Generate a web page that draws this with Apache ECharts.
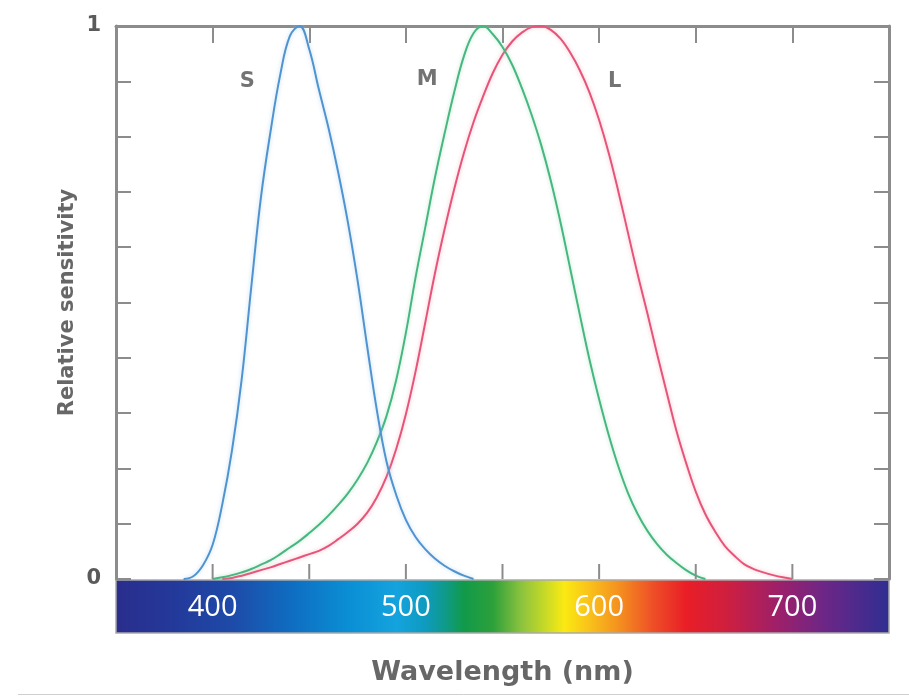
<!DOCTYPE html>
<html>
<head>
<meta charset="utf-8">
<script src="https://cdn.jsdelivr.net/npm/echarts@6/dist/echarts.min.js"></script>
<style>
  html, body { margin: 0; padding: 0; background: #ffffff; }
  #chart { width: 909px; height: 696px; }
</style>
</head>
<body>
<div id="chart"></div>
<script>
// Cone spectral sensitivities (normalised), sampled every 5 nm
const wavelengthsS = [385, 390, 395, 400, 405, 410, 415, 420, 425, 430, 435, 440, 445, 450, 455, 460,
  465, 470, 475, 480, 485, 490, 495, 500, 505, 510, 515, 520, 525, 530, 535];
const sensitivityS = [0, 0.005, 0.025, 0.062, 0.135, 0.232, 0.36, 0.528, 0.69, 0.81, 0.912, 0.982, 1.0, 0.958, 0.885, 0.815,
  0.735, 0.645, 0.54, 0.42, 0.305, 0.212, 0.152, 0.107, 0.076, 0.054, 0.037, 0.024, 0.014, 0.006, 0];

const wavelengthsM = [400, 405, 410, 415, 420, 425, 430, 435, 440, 445, 450, 455, 460, 465, 470, 475, 480, 485,
  490, 495, 500, 505, 510, 515, 520, 525, 530, 535, 540, 545, 550, 555, 560, 565, 570, 575, 580, 585,
  590, 595, 600, 605, 610, 615, 620, 625, 630, 635, 640, 645, 650, 655];
const sensitivityM = [0, 0.003, 0.007, 0.012, 0.018, 0.026, 0.034, 0.045, 0.057, 0.069, 0.083, 0.098, 0.115, 0.134, 0.155, 0.18, 0.21, 0.248,
  0.295, 0.36, 0.445, 0.545, 0.635, 0.725, 0.805, 0.88, 0.945, 0.987, 1.0, 0.985, 0.962, 0.93, 0.888, 0.84, 0.785, 0.72, 0.645, 0.562,
  0.478, 0.397, 0.325, 0.26, 0.203, 0.155, 0.117, 0.087, 0.063, 0.044, 0.029, 0.016, 0.006, 0];

const wavelengthsL = [405, 410, 415, 420, 425, 430, 435, 440, 445, 450, 455, 460, 465, 470, 475, 480, 485, 490,
  495, 500, 505, 510, 515, 520, 525, 530, 535, 540, 545, 550, 555, 560, 565, 570, 575, 580, 585, 590,
  595, 600, 605, 610, 615, 620, 625, 630, 635, 640, 645, 650, 655, 660, 665, 670, 675, 680, 685, 690, 695, 700];
const sensitivityL = [0, 0.002, 0.006, 0.011, 0.016, 0.021, 0.027, 0.033, 0.039, 0.045, 0.051, 0.06, 0.072, 0.085, 0.10, 0.12, 0.148, 0.185,
  0.235, 0.298, 0.375, 0.463, 0.552, 0.632, 0.705, 0.77, 0.826, 0.873, 0.915, 0.948, 0.972, 0.988, 0.998, 1.0, 0.993, 0.977, 0.952, 0.92,
  0.88, 0.83, 0.77, 0.70, 0.625, 0.55, 0.48, 0.407, 0.337, 0.268, 0.21, 0.158, 0.117, 0.086, 0.06, 0.042, 0.027, 0.018, 0.012, 0.007, 0.003, 0];

// Axis ranges, tick and label values
const wavelengthMin = 350;
const wavelengthMax = 750;
const wavelengthStep = 50;
const wavelengthTicks = [400, 450, 500, 550, 600, 650, 700];
const wavelengthLabels = [400, 500, 600, 700];
const sensitivityLabels = [0, 1];

// Curve tags: name and anchor in data units (nm, sensitivity)
const curveTags = [
  { name: 'S', value: [418, 0.9] },
  { name: 'M', value: [511, 0.903] },
  { name: 'L', value: [608, 0.9] }
];

// Visible-spectrum colour stops (nm, colour) for the strip under the plot
const spectrumNm = [350, 380, 410, 440, 470, 495, 510, 522, 530, 545, 560, 575, 582, 595, 610, 628, 645, 665, 690, 715, 750];
const spectrumColors = ['#2a2d8c', '#23399a', '#1e4aa8', '#0f6cc0', '#0a8ed4', '#14a3de', '#0e9bc0', '#0f9a80', '#119a4a',
  '#2ca03a', '#8dc33e', '#d6df21', '#fbe912', '#f9c11a', '#f4911f', '#ee4e26', '#e91e27', '#d01f3e', '#a21f66', '#6f2686', '#2e2e92'];

const frameColor = '#8c8c8c';
const textGrey = '#676767';

function pairs(xs, ys) { return xs.map((x, i) => [x, ys[i]]); }

function curve(name, xs, ys, color, glow) {
  return {
    name: name,
    type: 'line',
    xAxisIndex: 0,
    yAxisIndex: 0,
    data: pairs(xs, ys),
    smooth: 0.4,
    showSymbol: false,
    silent: true,
    lineStyle: { color: color, width: 2, shadowColor: glow, shadowBlur: 4 },
    z: 3
  };
}

const frameLine = () => ({ show: true, onZero: false, lineStyle: { color: frameColor, width: 3 } });
const frameTick = (len) => ({ show: true, inside: true, length: len, lineStyle: { color: frameColor, width: 2 } });

const chart = echarts.init(document.getElementById('chart'), null, { renderer: 'canvas' });

chart.setOption({
  animation: false,
  backgroundColor: '#ffffff',
  grid: { left: 116, right: 20, top: 26, bottom: 117, containLabel: false },
  xAxis: [
    {
      // wavelength labels and title along the spectrum strip
      type: 'value', position: 'bottom', min: wavelengthMin, max: wavelengthMax, interval: wavelengthStep,
      axisLine: { show: false },
      axisTick: { show: false },
      axisLabel: { show: true, customValues: wavelengthLabels, margin: 14, color: '#ffffff',
        fontSize: 29, fontFamily: 'Open Sans', fontWeight: 'normal' },
      splitLine: { show: false },
      name: 'Wavelength (nm)', nameLocation: 'middle', nameGap: 80, nameMoveOverlap: false,
      nameTextStyle: { fontFamily: 'DejaVu Sans', fontWeight: 'bold', fontSize: 27, color: textGrey }
    },
    {
      // top edge of the frame
      type: 'value', position: 'top', min: wavelengthMin, max: wavelengthMax, interval: wavelengthStep,
      axisLine: frameLine(),
      axisTick: frameTick(17),
      axisLabel: { show: false },
      splitLine: { show: false }
    }
  ],
  yAxis: [
    {
      type: 'value', position: 'left', min: 0, max: 1, interval: 0.1,
      axisLine: frameLine(),
      axisTick: frameTick(15),
      axisLabel: { show: true, customValues: sensitivityLabels, margin: 15, color: '#5a5a5a',
        fontSize: 21, fontFamily: 'DejaVu Sans', fontWeight: 'bold' },
      splitLine: { show: false },
      name: 'Relative sensitivity', nameLocation: 'middle', nameGap: 38, nameRotate: 90, nameMoveOverlap: false,
      nameTextStyle: { fontFamily: 'DejaVu Sans', fontWeight: 'bold', fontSize: 21, color: textGrey }
    },
    {
      type: 'value', position: 'right', min: 0, max: 1, interval: 0.1,
      axisLine: frameLine(),
      axisTick: frameTick(15),
      axisLabel: { show: false },
      splitLine: { show: false }
    }
  ],
  series: [
    curve('L', wavelengthsL, sensitivityL, '#e5557a', 'rgba(240,150,170,0.6)'),
    curve('M', wavelengthsM, sensitivityM, '#46b77f', 'rgba(150,215,180,0.6)'),
    curve('S', wavelengthsS, sensitivityS, '#4f93cf', 'rgba(150,195,230,0.6)'),
    {
      name: 'tags', type: 'scatter', data: curveTags, symbolSize: 0, silent: true, z: 4,
      label: { show: true, position: 'inside', formatter: p => p.name,
        fontFamily: 'DejaVu Sans', fontWeight: 'bold', fontSize: 21, color: '#505050' }
    }
  ]
});

// Spectrum strip just beneath the wavelength axis, spanning the plot width
const left = chart.convertToPixel({ gridIndex: 0 }, [wavelengthMin, 0]);
const right = chart.convertToPixel({ gridIndex: 0 }, [wavelengthMax, 0]);
const span = wavelengthMax - wavelengthMin;
const stops = spectrumNm.map((nm, i) => ({ offset: (nm - wavelengthMin) / span, color: spectrumColors[i] }));

// Bottom-edge tick marks, placed through the wavelength scale
const bottomTicks = wavelengthTicks.map(nm => {
  const p = chart.convertToPixel({ gridIndex: 0 }, [nm, 0]);
  return {
    type: 'line', z: 20, silent: true,
    shape: { x1: p[0], y1: p[1], x2: p[0], y2: p[1] - 15 },
    style: { stroke: frameColor, lineWidth: 2 }
  };
});

chart.setOption({
  graphic: [
    {
      type: 'rect', z: -10, silent: true,
      shape: { x: left[0], y: left[1] + 1, width: right[0] - left[0], height: 53 },
      style: {
        fill: new echarts.graphic.LinearGradient(0, 0, 1, 0, stops),
        stroke: '#a9a9a9', lineWidth: 1.5
      }
    },
    {
      type: 'line', z: -10, silent: true,
      shape: { x1: 18, y1: 694.5, x2: 909, y2: 694.5 },
      style: { stroke: '#cfcfcf', lineWidth: 1 }
    }
  ].concat(bottomTicks)
});
</script>
</body>
</html>
